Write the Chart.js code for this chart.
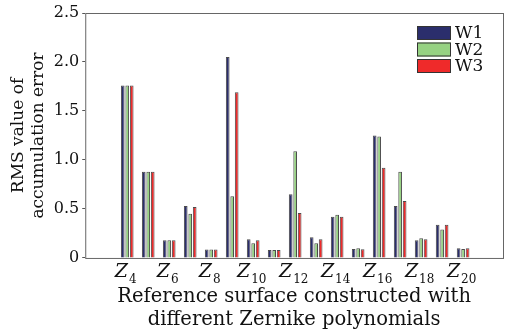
<!DOCTYPE html>
<html>
<head>
<meta charset="utf-8">
<script src="https://cdn.jsdelivr.net/npm/chart.js@4/dist/chart.umd.min.js"></script>
<style>
  html, body { margin: 0; padding: 0; background: #fff; }
  #wrap { width: 517px; height: 331px; }
</style>
</head>
<body>
<div id="wrap"><canvas id="c"></canvas></div>
<script>
// Zernike terms (Z4 ... Z20) and the RMS values for each wavefront
const terms = [4, 5, 6, 7, 8, 9, 10, 11, 12, 13, 14, 15, 16, 17, 18, 19, 20];
const w1 = [1.76, 0.88, 0.18, 0.53, 0.085, 2.05, 0.19, 0.082, 0.65, 0.21, 0.42, 0.092, 1.25, 0.53, 0.18, 0.34, 0.10];
const w2 = [1.76, 0.88, 0.18, 0.45, 0.085, 0.63, 0.15, 0.082, 1.09, 0.15, 0.44, 0.10, 1.24, 0.88, 0.20, 0.29, 0.092];
const w3 = [1.76, 0.88, 0.18, 0.52, 0.085, 1.69, 0.18, 0.082, 0.46, 0.19, 0.42, 0.09, 0.92, 0.58, 0.19, 0.34, 0.10];
const tickTerms = [4, 6, 8, 10, 12, 14, 16, 18, 20];
const yTicks = [0, 0.5, 1.0, 1.5, 2.0, 2.5];

const serif = "'DejaVu Serif', 'Liberation Serif', serif";
const toPoints = arr => arr.map((v, i) => ({ x: terms[i], y: v }));

// рамка вокруг области графика
const frame = {
  id: 'frame',
  afterDraw(chart) {
    const { ctx, chartArea: a } = chart;
    ctx.save();
    ctx.strokeStyle = '#666';
    ctx.lineWidth = 1;
    ctx.strokeRect(a.left + 0.5, a.top + 0.5, a.right - a.left, a.bottom - a.top);
    ctx.restore();
  }
};

// подписи Z с нижним индексом
const zLabels = {
  id: 'zLabels',
  afterDraw(chart) {
    const { ctx, scales } = chart;
    const xs = scales.x;
    const base = xs.top + 19;
    ctx.save();
    ctx.fillStyle = '#111';
    ctx.textBaseline = 'alphabetic';
    tickTerms.forEach(t => {
      const px = xs.getPixelForValue(t);
      ctx.font = 'italic 19px ' + serif;
      const zw = ctx.measureText('Z').width;
      ctx.font = '12px ' + serif;
      const sw = ctx.measureText(String(t)).width;
      const x0 = px - (zw + sw) / 2 - 2;
      ctx.font = 'italic 19px ' + serif;
      ctx.textAlign = 'left';
      ctx.fillText('Z', x0, base);
      ctx.font = '12px ' + serif;
      ctx.fillText(String(t), x0 + zw + 1, base + 6);
    });
    ctx.restore();
  }
};

// легенда внутри области графика
const boxLegend = {
  id: 'boxLegend',
  afterDraw(chart) {
    const { ctx, chartArea: a } = chart;
    ctx.save();
    chart.data.datasets.forEach((ds, i) => {
      const x = a.right - 86;
      const y = a.top + 13 + i * 16.5;
      ctx.fillStyle = ds.backgroundColor;
      ctx.fillRect(x, y, 34, 14);
      ctx.strokeStyle = '#333';
      ctx.lineWidth = 1;
      ctx.strokeRect(x + 0.5, y + 0.5, 33, 13);
      ctx.fillStyle = '#111';
      ctx.font = '17px ' + serif;
      ctx.textBaseline = 'middle';
      ctx.fillText(ds.label, x + 38, y + 8);
    });
    ctx.restore();
  }
};

const barStyle = { borderColor: 'rgba(45,45,45,0.85)', borderWidth: 1, categoryPercentage: 0.64, barPercentage: 0.82 };

new Chart(document.getElementById('c'), {
  type: 'bar',
  data: {
    datasets: [
      { label: 'W1', data: toPoints(w1), backgroundColor: '#2b2e6c', ...barStyle },
      { label: 'W2', data: toPoints(w2), backgroundColor: '#96d282', ...barStyle },
      { label: 'W3', data: toPoints(w3), backgroundColor: '#ef2a2a', ...barStyle }
    ]
  },
  options: {
    responsive: true,
    maintainAspectRatio: false,
    animation: false,
    layout: { padding: { top: 13, right: 14, left: 8, bottom: 0 } },
    plugins: {
      legend: { display: false },
      tooltip: { enabled: false }
    },
    scales: {
      x: {
        type: 'linear',
        min: 2,
        max: 21.9,
        offset: false,
        afterBuildTicks: s => { s.ticks = tickTerms.map(v => ({ value: v })); },
        grid: { display: false, drawTicks: false },
        border: { display: false },
        ticks: {
          color: 'rgba(0,0,0,0)',
          font: { family: serif, size: 16 },
          padding: 4.5,
          maxRotation: 0,
          autoSkip: false,
          callback: v => 'Z' + v
        },
        title: {
          display: true,
          text: ['Reference surface constructed with', 'different Zernike polynomials'],
          color: '#111',
          font: { family: serif, size: 19.5, lineHeight: 1.15 },
          padding: { top: 0, bottom: 0 }
        }
      },
      y: {
        min: 0,
        max: 2.5,
        afterBuildTicks: s => { s.ticks = yTicks.map(v => ({ value: v })); },
        grid: { display: true, drawOnChartArea: false, drawTicks: true, tickLength: 3, color: '#555' },
        border: { display: false },
        ticks: {
          color: '#111',
          font: { family: serif, size: 16 },
          padding: 3,
          callback: v => v === 0 ? '0' : v.toFixed(1)
        },
        title: {
          display: true,
          text: ['RMS value of', 'accumulation error'],
          color: '#111',
          font: { family: serif, size: 17 },
          padding: { top: 0, bottom: 2 }
        }
      }
    }
  },
  plugins: [frame, zLabels, boxLegend]
});
</script>
</body>
</html>
